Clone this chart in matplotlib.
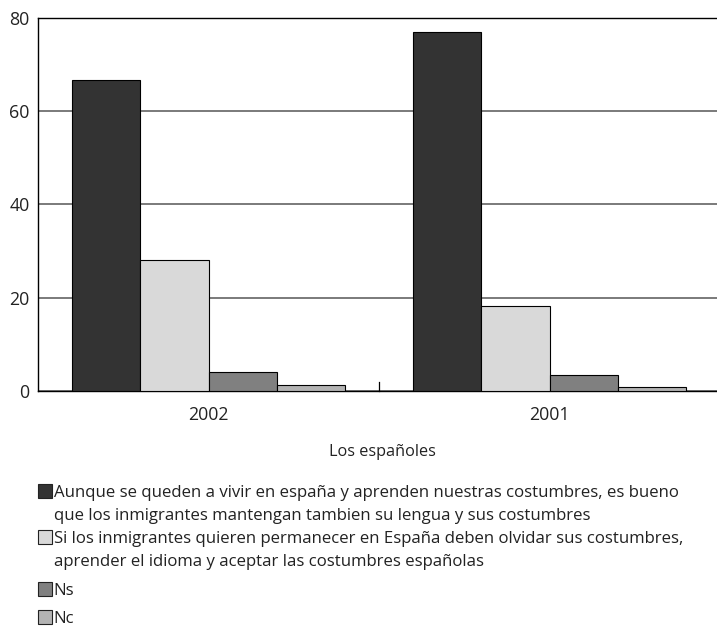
import matplotlib
matplotlib.use("Agg")
import matplotlib.pyplot as plt
from matplotlib.patches import Rectangle
import numpy as np

plt.rcParams['font.family'] = ['Open Sans', 'DejaVu Sans']

years = ["2002", "2001"]
series = [
    "Aunque se queden a vivir en españa y aprenden nuestras costumbres, es bueno\nque los inmigrantes mantengan tambien su lengua y sus costumbres",
    "Si los inmigrantes quieren permanecer en España deben olvidar sus costumbres,\naprender el idioma y aceptar las costumbres españolas",
    "Ns",
    "Nc",
]
mantener = [66.6, 77.0]
olvidar = [28.0, 18.3]
ns = [4.0, 3.5]
nc = [1.2, 0.9]
values = [mantener, olvidar, ns, nc]
colors = ["#333333", "#d9d9d9", "#808080", "#b3b3b3"]
text_color = "#222222"

W, H = 717, 626
fig = plt.figure(figsize=(W / 100, H / 100), dpi=100)
ax = fig.add_axes([38 / W, 1 - 391 / H, (720 - 38) / W, (391 - 18) / H])

x = np.arange(len(years))
bw = 0.2
for i, (vals, c) in enumerate(zip(values, colors)):
    ax.bar(x + (i - 1.5) * bw, vals, width=bw, color=c, edgecolor="black",
           linewidth=0.8, zorder=3)

ax.set_xlim(-0.5, 1.5)
ax.set_ylim(0, 80)
ax.set_yticks([0, 20, 40, 60, 80])
ax.set_xticks(x)
ax.set_xticklabels(years)
ax.tick_params(axis="both", length=0, labelsize=12.8, colors=text_color)
ax.tick_params(axis="x", pad=11)
ax.tick_params(axis="y", pad=6)
ax.grid(axis="y", color="#7a7a7a", linewidth=1.4, zorder=0)
for s in ["left", "bottom", "top"]:
    ax.spines[s].set_color("black")
    ax.spines[s].set_linewidth(1.0)
ax.spines["right"].set_visible(False)
# separator tick between the two year groups
ax.plot([0.5, 0.5], [0, 1.9], color="black", linewidth=0.9, zorder=4, clip_on=False)

ax.set_xlabel("Los españoles", fontsize=11.7, color=text_color, va="center")
ax.xaxis.set_label_coords(0.5 + (382 - 379) / 682, (391 - 452) / 373)

# legend: square swatch beside the first line of each entry
entry_tops = [490.7, 536.7, 588.7, 616.7]
line_step = 23.3
sq = 14
for label, c, yc in zip(series, colors, entry_tops):
    fig.patches.append(Rectangle((37.5 / W, 1 - (yc + sq / 2) / H), sq / W, sq / H,
                                 transform=fig.transFigure, facecolor=c,
                                 edgecolor="#222222", linewidth=0.8))
    for k, line in enumerate(label.split("\n")):
        fig.text(53.5 / W, 1 - (yc + k * line_step) / H, line, fontsize=12.1,
                 color=text_color, ha="left", va="center_baseline")

fig.savefig("out.png", dpi=100)
